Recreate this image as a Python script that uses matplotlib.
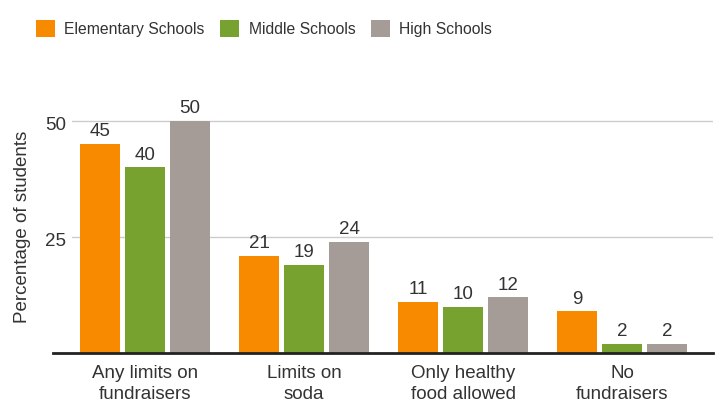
import numpy as np
import matplotlib.pyplot as plt
import matplotlib.transforms as mtransforms
from matplotlib.patches import Patch

categories = ["Any limits on\nfundraisers", "Limits on\nsoda", "Only healthy\nfood allowed", "No\nfundraisers"]
series = ["Elementary Schools", "Middle Schools", "High Schools"]
elementary = [45, 21, 11, 9]
middle = [40, 19, 10, 2]
high = [50, 24, 12, 2]
colors = ["#F88A00", "#78A22F", "#A69C97"]
yticks = [25, 50]

plt.rcParams['font.family'] = ['Liberation Sans', 'DejaVu Sans']
txt = "#333333"

fig = plt.figure(figsize=(7.21, 4.05), dpi=100)
ax = fig.add_axes([72/721, 52/405, 641/721, 260/405])

x = np.arange(len(categories))
w = 0.252
step = 0.283
for i, (vals, c) in enumerate(zip([elementary, middle, high], colors)):
    pos = x + (i - 1) * step
    ax.bar(pos, vals, width=w, color=c, zorder=3)
    for p, v in zip(pos, vals):
        ax.text(p, v + 0.8, str(v), ha='center', va='bottom', fontsize=13.5, color=txt)

ax.set_xlim(-0.459, 3.572)
ax.set_ylim(0, 56)
ax.set_yticks(yticks)
ax.grid(axis='y', color="#cccccc", lw=1, zorder=1)
ax.set_axisbelow(True)
ax.set_xticks(x)
ax.set_xticklabels(categories, fontsize=13.5, color=txt, linespacing=1.3)
ax.tick_params(axis='both', length=0, labelsize=13.5, labelcolor=txt)
ax.tick_params(axis='y', pad=4)
ax.tick_params(axis='x', pad=9)
# nudge the y tick labels down a little
shift = mtransforms.ScaledTranslation(0, -3/100, fig.dpi_scale_trans)
for lab in ax.get_yticklabels():
    lab.set_transform(lab.get_transform() + shift)
for s in ['top', 'right', 'left', 'bottom']:
    ax.spines[s].set_visible(False)
# baseline runs a bit further left than the gridlines
ax.plot([-0.58, 3.572], [0, 0], color="#222222", lw=2, clip_on=False, zorder=4)

fig.text(23/721, 1 - 227/405, "Percentage of students", rotation=90,
         ha='center', va='center', fontsize=13.5, color=txt)

handles = [Patch(facecolor=c, label=s) for c, s in zip(colors, series)]
fig.legend(handles=handles, loc='upper left', bbox_to_anchor=(22/721, 1 - 6/405), ncol=3,
           frameon=False, fontsize=11.3, handlelength=1.2, handleheight=1.3,
           handletextpad=0.6, columnspacing=1.0, labelcolor=txt)

fig.savefig("out.png", dpi=100)
